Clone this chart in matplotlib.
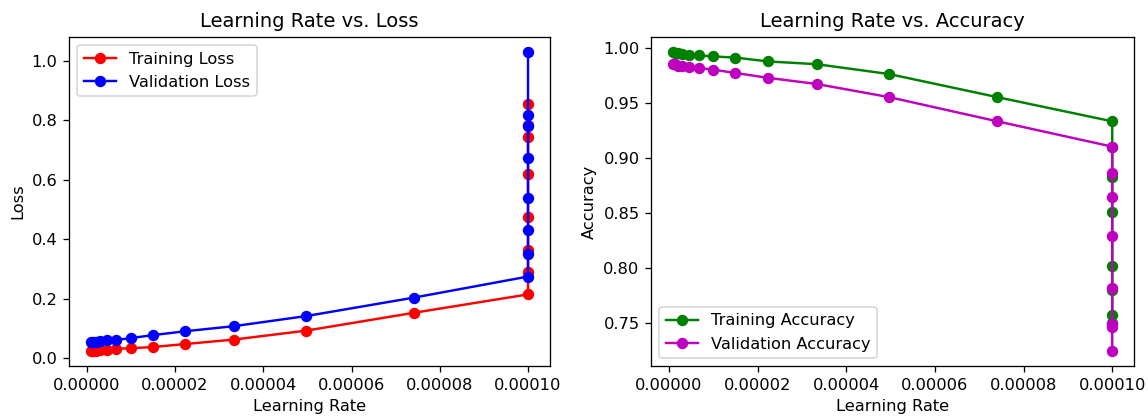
import matplotlib
matplotlib.use("Agg")
import matplotlib.pyplot as plt

# learning rate per epoch (constant, then decayed)
learning_rates = [1e-4, 1e-4, 1e-4, 1e-4, 1e-4, 1e-4, 1e-4, 1e-4,
                  7.41e-5, 4.97e-5, 3.33e-5, 2.23e-5, 1.50e-5, 1.00e-5,
                  6.73e-6, 4.51e-6, 3.02e-6, 2.03e-6, 1.36e-6, 0.91e-6]

train_loss = [0.855, 0.785, 0.745, 0.620, 0.475, 0.365, 0.290, 0.215,
              0.153, 0.093, 0.063, 0.048, 0.038, 0.034, 0.032, 0.029,
              0.027, 0.026, 0.025, 0.024]
val_loss = [1.030, 0.820, 0.780, 0.675, 0.540, 0.430, 0.350, 0.275,
            0.204, 0.142, 0.108, 0.091, 0.078, 0.068, 0.062, 0.060,
            0.057, 0.056, 0.055, 0.054]

train_acc = [0.750, 0.757, 0.780, 0.801, 0.851, 0.882, 0.910, 0.933,
             0.955, 0.976, 0.985, 0.9875, 0.991, 0.992, 0.993, 0.9935,
             0.994, 0.995, 0.9955, 0.996]
val_acc = [0.724, 0.746, 0.749, 0.781, 0.829, 0.864, 0.886, 0.910,
           0.933, 0.955, 0.967, 0.9726, 0.977, 0.980, 0.9816, 0.982,
           0.983, 0.9836, 0.985, 0.985]

DPI = 117
fig = plt.figure(figsize=(1148 / DPI, 417 / DPI), dpi=DPI)
ax1 = fig.add_axes([0.060, 0.122, 0.419, 0.789])
ax2 = fig.add_axes([0.567, 0.122, 0.421, 0.789])

ax1.plot(learning_rates, train_loss, 'o-', color='r', label='Training Loss')
ax1.plot(learning_rates, val_loss, 'o-', color='b', label='Validation Loss')
ax1.set_title('Learning Rate vs. Loss')
ax1.set_xlabel('Learning Rate')
ax1.set_ylabel('Loss')
ax1.legend(loc='upper left')

ax2.plot(learning_rates, train_acc, 'o-', color='g', label='Training Accuracy')
ax2.plot(learning_rates, val_acc, 'o-', color='m', label='Validation Accuracy')
ax2.set_title('Learning Rate vs. Accuracy')
ax2.set_xlabel('Learning Rate')
ax2.set_ylabel('Accuracy')
ax2.legend(loc='lower left')

fig.savefig('out.png', dpi=DPI)
